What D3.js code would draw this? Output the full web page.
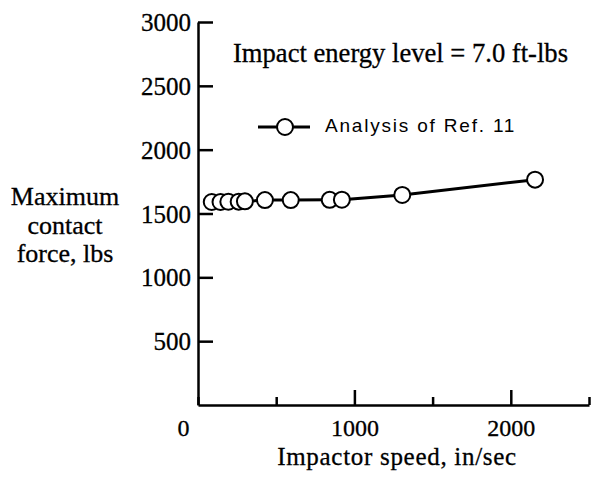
<!DOCTYPE html>
<html>
<head>
<meta charset="utf-8">
<script src="https://cdn.jsdelivr.net/npm/d3@7"></script>
<style>
  html, body { margin: 0; padding: 0; background: #fff; }
  svg { display: block; }
  .serif { font-family: "Liberation Serif", "Times New Roman", serif; fill: #000; stroke: #000; stroke-width: 0.3px; }
  .sans { font-family: "Liberation Sans", Arial, sans-serif; fill: #000; }
</style>
</head>
<body>
<svg id="chart" width="593" height="477"></svg>
<script>
// Data
const speeds = [88, 144, 194, 260, 300, 428, 593, 842, 920, 1306, 2155];
const forces = [1590, 1590, 1592, 1593, 1595, 1605, 1605, 1607, 1608, 1645, 1765];
const xTicks = [0, 500, 1000, 1500, 2000, 2500];
const xTickLabels = ["0", "", "1000", "", "2000", ""];
const yTicks = [500, 1000, 1500, 2000, 2500, 3000];
const yLabelLines = ["Maximum", "contact", "force, lbs"];
const xLabel = "Impactor speed, in/sec";
const titleText = "Impact energy level = 7.0 ft-lbs";
const legendText = "Analysis of Ref. 11";

const svg = d3.select("#chart");
const x = d3.scaleLinear().domain([0, 2500]).range([198, 589]);
const y = d3.scaleLinear().domain([0, 3000]).range([405, 22]);

// Y axis
const yAxis = d3.axisLeft(y).tickValues(yTicks).tickSizeInner(-15).tickSizeOuter(0).tickPadding(7).tickFormat(d3.format("d"));
const gy = svg.append("g").attr("transform", `translate(${x(0)},0)`).call(yAxis);
gy.select(".domain").attr("stroke", "#000").attr("stroke-width", 2.5);
gy.selectAll(".tick line").attr("stroke", "#000").attr("stroke-width", 2.5);
gy.selectAll(".tick text").attr("class", "serif").style("font-size", "25px").attr("dy", "0.34em");

// X axis
const xAxis = d3.axisBottom(x).tickValues(xTicks).tickSizeInner(-15).tickSizeOuter(0).tickPadding(0)
  .tickFormat((d, i) => xTickLabels[i]);
const gx = svg.append("g").attr("transform", `translate(0,${y(0)})`).call(xAxis);
gx.select(".domain").attr("stroke", "#000").attr("stroke-width", 2.5);
gx.selectAll(".tick line").attr("stroke", "#000").attr("stroke-width", 2.5)
  .attr("y2", d => (d % 1000 === 0 && d !== 0) ? -15 : -8);
gx.selectAll(".tick text").attr("class", "serif").style("font-size", "24px")
  .attr("y", 31).attr("dy", 0)
  .attr("dx", d => d === 0 ? -15 : 0);

// Line
const line = d3.line().x((d, i) => x(speeds[i])).y(d => y(d));
svg.append("path").datum(forces).attr("d", line)
  .attr("fill", "none").attr("stroke", "#000").attr("stroke-width", 3);

svg.selectAll("circle.pt").data(forces).join("circle").attr("class", "pt")
  .attr("cx", (d, i) => x(speeds[i])).attr("cy", d => y(d)).attr("r", 8)
  .attr("fill", "#fff").attr("stroke", "#000").attr("stroke-width", 2);

// Title
svg.append("text").attr("class", "serif").attr("x", 233).attr("y", 62)
  .style("font-size", "26.6px").text(titleText);

// Legend
svg.append("line").attr("x1", 258).attr("x2", 310).attr("y1", 127).attr("y2", 127)
  .attr("stroke", "#000").attr("stroke-width", 3);
svg.append("circle").attr("cx", 285).attr("cy", 127).attr("r", 8)
  .attr("fill", "#fff").attr("stroke", "#000").attr("stroke-width", 2);
svg.append("text").attr("class", "sans").attr("x", 325).attr("y", 132)
  .style("font-size", "19px").style("letter-spacing", "1.8px").text(legendText);

// Y label
const yl = svg.append("text").attr("class", "serif").attr("text-anchor", "middle").style("font-size", "26px");
const ylBase = [205, 234, 262];
yLabelLines.forEach((t, i) => yl.append("tspan").attr("x", 65).attr("y", ylBase[i]).text(t));

// X label
svg.append("text").attr("class", "serif").attr("text-anchor", "middle")
  .attr("x", 397).attr("y", 465).style("font-size", "25px").style("letter-spacing", "0.7px").text(xLabel);
</script>
</body>
</html>
